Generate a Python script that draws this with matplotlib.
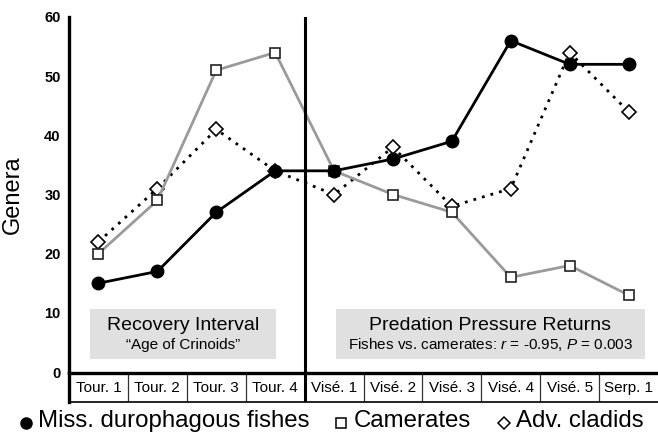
import matplotlib
matplotlib.use('Agg')
import matplotlib.pyplot as plt
from matplotlib.lines import Line2D
from matplotlib.patches import Rectangle
import numpy as np

plt.rcParams['font.family'] = ['Liberation Sans', 'DejaVu Sans']
plt.rcParams['mathtext.fontset'] = 'custom'
plt.rcParams['mathtext.rm'] = 'Liberation Sans'
plt.rcParams['mathtext.it'] = 'Liberation Sans:italic'

# 数据
stages = ['Tour. 1', 'Tour. 2', 'Tour. 3', 'Tour. 4', 'Visé. 1', 'Visé. 2',
          'Visé. 3', 'Visé. 4', 'Visé. 5', 'Serp. 1']
fishes = [15, 17, 27, 34, 34, 36, 39, 56, 52, 52]
camerates = [20, 29, 51, 54, 34, 30, 27, 16, 18, 13]
cladids = [22, 31, 41, 34, 30, 38, 28, 31, 54, 44]
yticks = [0, 10, 20, 30, 40, 50, 60]

W, H = 658, 433
fig = plt.figure(figsize=(W / 100, H / 100), dpi=100)


def px(x, y):
    """像素坐标 -> figure坐标"""
    return x / W, 1 - y / H


ax = fig.add_axes([69 / W, 61 / H, (W - 69) / W, 355 / H])
x = np.arange(len(stages))

ax.plot(x, cladids, color='black', linestyle=(0, (1, 2.2)), linewidth=2,
        marker='D', markersize=7, markerfacecolor='white',
        markeredgecolor='black', markeredgewidth=1.2, zorder=3)
ax.plot(x, camerates, color='#9a9a9a', linewidth=2,
        marker='s', markersize=7.5, markerfacecolor='white',
        markeredgecolor='#222222', markeredgewidth=1.2, zorder=4)
ax.plot(x, fishes, color='black', linewidth=2,
        marker='o', markersize=9, markerfacecolor='black',
        markeredgecolor='black', zorder=5)

ax.set_xlim(-0.5, 9.5)
ax.set_ylim(0, 60)
ax.set_yticks(yticks)
ax.set_yticklabels([str(v) for v in yticks], fontsize=10.5, fontweight='bold')
ax.tick_params(axis='y', length=0, pad=6)
ax.set_xticks([])
for s in ['top', 'right', 'bottom']:
    ax.spines[s].set_visible(False)
ax.spines['left'].set_linewidth(2.4)
ax.set_ylabel('Genera', fontsize=17)
ax.yaxis.set_label_coords(-0.077, 0.5)

# 分隔线
ax.axvline(3.5, color='black', linewidth=2.2, zorder=6)

# 灰色说明框
ax.add_patch(Rectangle((-0.14, 2.2), 3.16, 8.45, facecolor='#e0e0e0',
                       edgecolor='none', zorder=1))
ax.add_patch(Rectangle((4.03, 2.2), 5.25, 8.45, facecolor='#e0e0e0',
                       edgecolor='none', zorder=1))
ax.text(1.44, 7.9, 'Recovery Interval', ha='center', va='center',
        fontsize=14, zorder=2)
ax.text(1.44, 4.6, '\u201cAge of Crinoids\u201d', ha='center', va='center',
        fontsize=11, zorder=2)
ax.text(6.655, 7.9, 'Predation Pressure Returns', ha='center', va='center',
        fontsize=14, zorder=2)
ax.text(6.655, 4.6, 'Fishes vs. camerates: $r$ = -0.95, $P$ = 0.003',
        ha='center', va='center', fontsize=11, zorder=2)

# 底部表格
tax = fig.add_axes([69 / W, 31 / H, (W - 69) / W, 29.5 / H])
tax.set_xlim(-0.5, 9.5)
tax.set_ylim(0, 1)
tax.set_xticks([])
tax.set_yticks([])
tax.patch.set_alpha(0)
tax.spines['right'].set_visible(False)
tax.spines['top'].set_linewidth(2.4)
tax.spines['left'].set_linewidth(2.4)
tax.spines['bottom'].set_linewidth(1.2)
for b in np.arange(0.5, 9.5, 1.0):
    if b == 3.5:
        tax.axvline(b, color='black', linewidth=2.2)
    else:
        tax.axvline(b, color='#333333', linewidth=0.9)
for i, lab in enumerate(stages):
    tax.text(i, 0.47, lab, ha='center', va='center', fontsize=11)

# 图例
fig.add_artist(Line2D([px(26, 0)[0]], [px(0, 423)[1]], marker='o',
                      markersize=8, color='black', linestyle='none'))
fig.text(*px(38, 421), 'Miss. durophagous fishes', fontsize=17.3, va='center')
fig.add_artist(Line2D([px(341, 0)[0]], [px(0, 423)[1]], marker='s',
                      markersize=6.5, markerfacecolor='white',
                      markeredgecolor='black', markeredgewidth=1.1,
                      linestyle='none'))
fig.text(*px(354, 421), 'Camerates', fontsize=17.3, va='center')
fig.add_artist(Line2D([px(504, 0)[0]], [px(0, 423)[1]], marker='D',
                      markersize=6.5, markerfacecolor='white',
                      markeredgecolor='black', markeredgewidth=1.1,
                      linestyle='none'))
fig.text(*px(516, 421), 'Adv. cladids', fontsize=17.3, va='center')

fig.savefig('out.png', dpi=100)
